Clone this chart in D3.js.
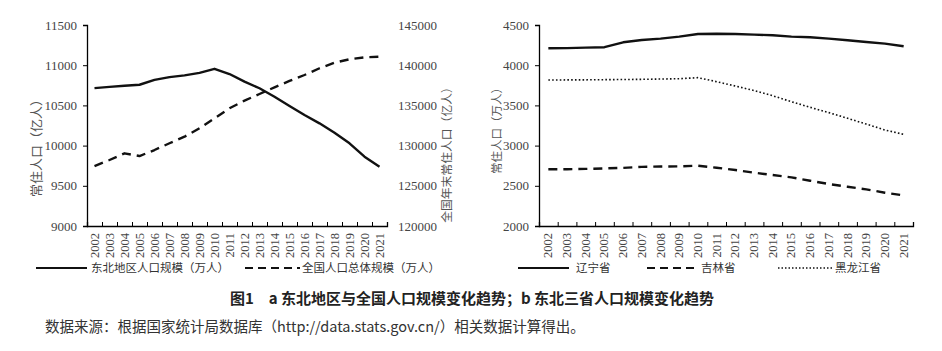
<!DOCTYPE html>
<html>
<head>
<meta charset="utf-8">
<script src="https://cdn.jsdelivr.net/npm/d3@7"></script>
<style>
body { margin: 0; background: #fff; }
.cjk { font-family: "Noto Sans CJK SC", sans-serif; }
</style>
</head>
<body>
<svg width="942" height="351"></svg>
<script>
const years = d3.range(2002, 2022);

// panel a
const northeast = [10715, 10730, 10745, 10757, 10817, 10852, 10874, 10905, 10955, 10890,
                   10795, 10713, 10608, 10493, 10380, 10277, 10160, 10028, 9862, 9738];
const national = [127460, 128210, 129040, 128700, 129450, 130290, 131110, 132150, 133400, 134640,
                  135590, 136420, 137250, 138040, 138780, 139620, 140310, 140740, 140980, 141060];
const leftTicks = [9000, 9500, 10000, 10500, 11000, 11500];
const rightTicks = [120000, 125000, 130000, 135000, 140000, 145000];

// panel b
const liaoning = [4210, 4212, 4218, 4224, 4285, 4313, 4330, 4355, 4388, 4391,
                  4388, 4380, 4372, 4355, 4347, 4330, 4310, 4288, 4268, 4235];
const jilin = [2705, 2706, 2710, 2716, 2723, 2736, 2740, 2742, 2750, 2725,
               2696, 2663, 2634, 2605, 2563, 2522, 2488, 2456, 2414, 2380];
const heilongjiang = [3816, 3817, 3818, 3820, 3822, 3824, 3828, 3832, 3845, 3795,
                      3741, 3685, 3620, 3546, 3476, 3410, 3340, 3268, 3194, 3140];
const bTicks = [2000, 2500, 3000, 3500, 4000, 4500];

const svg = d3.select('svg');
const plotTop = 25, plotBottom = 226;
const serif = '"Liberation Serif"';

function xAxisFor(x0, x1) {
    const x = d3.scaleLinear().domain([2001.5, 2021.5]).range([x0, x1]);
    const g = svg.append('g').attr('transform', `translate(0,${plotBottom})`);
    g.call(d3.axisBottom(x).tickValues(d3.range(2001.5, 2022.5, 1)).tickSize(-4).tickFormat(''))
        .call(s => s.select('.domain').attr('stroke', '#000').attr('stroke-width', 1.3))
        .call(s => s.selectAll('.tick line').attr('stroke', '#000'));
    svg.append('g').selectAll('text').data(years).enter().append('text')
        .attr('transform', d => `translate(${x(d) + 4},233) rotate(-90)`)
        .attr('text-anchor', 'end')
        .style('font-family', serif)
        .style('font-size', '12.5px')
        .attr('fill', '#444')
        .text(d => d);
    return x;
}

function yAxisLeft(y, ticks, xPos) {
    svg.append('g').attr('transform', `translate(${xPos},0)`)
        .call(d3.axisLeft(y).tickValues(ticks).tickFormat(d3.format('d')).tickSize(4).tickPadding(6))
        .call(s => s.select('.domain').attr('stroke', '#000').attr('stroke-width', 1.3))
        .call(s => s.selectAll('.tick line').attr('stroke', '#000'))
        .call(s => s.selectAll('.tick text').attr('fill', '#444')
              .style('font-size', '13px').style('font-family', serif));
}

function drawLine(x, y, vals, width, dash) {
    svg.append('path')
        .datum(vals)
        .attr('fill', 'none')
        .attr('stroke', '#111')
        .attr('stroke-width', width)
        .attr('stroke-dasharray', dash)
        .attr('stroke-linejoin', 'round')
        .attr('d', d3.line().x((d, i) => x(years[i])).y(d => y(d)));
}

// ---------- panel a ----------
const xa = xAxisFor(87, 387);
const ya = d3.scaleLinear().domain([9000, 11500]).range([plotBottom, plotTop]);
yAxisLeft(ya, leftTicks, 87);
const ya2 = d3.scaleLinear().domain([120000, 145000]).range([plotBottom, plotTop]);
svg.append('g').attr('transform', 'translate(392,0)')
    .call(d3.axisRight(ya2).tickValues(rightTicks).tickFormat(d3.format('d')).tickSize(0).tickPadding(6))
    .call(s => s.select('.domain').remove())
    .call(s => s.selectAll('.tick text').attr('fill', '#444')
          .style('font-size', '13px').style('font-family', serif));

drawLine(xa, ya, northeast, 2.4, null);
drawLine(xa, ya2, national, 2.4, '9,6');

svg.append('text').attr('class', 'cjk')
    .attr('transform', 'translate(41,145) rotate(-90)')
    .attr('text-anchor', 'middle').attr('font-size', 13).attr('fill', '#555')
    .text('常住人口（亿人）');
svg.append('text').attr('class', 'cjk')
    .attr('transform', 'translate(451,152) rotate(-90)')
    .attr('text-anchor', 'middle').attr('font-size', 11.8).attr('fill', '#555')
    .text('全国年末常住人口（亿人）');

// ---------- panel b ----------
const xb = xAxisFor(539, 913);
const yb = d3.scaleLinear().domain([2000, 4500]).range([plotBottom, plotTop]);
yAxisLeft(yb, bTicks, 539);

drawLine(xb, yb, liaoning, 2.4, null);
drawLine(xb, yb, jilin, 2.4, '9,6');
drawLine(xb, yb, heilongjiang, 1.6, '1.6,2.2');

svg.append('text').attr('class', 'cjk')
    .attr('transform', 'translate(501,128) rotate(-90)')
    .attr('text-anchor', 'middle').attr('font-size', 11.5).attr('fill', '#555')
    .text('常住人口（万人）');

// ---------- legends ----------
const legend = [
    {x: 36, w: 51, tx: 91, dash: null, sw: 2, label: '东北地区人口规模（万人）'},
    {x: 245, w: 55, tx: 302, dash: '8,5', sw: 2, label: '全国人口总体规模（万人）'},
    {x: 518, w: 51, tx: 576, dash: null, sw: 2, label: '辽宁省'},
    {x: 647, w: 51, tx: 701, dash: '8,5', sw: 2, label: '吉林省'},
    {x: 778, w: 54, tx: 835, dash: '1.5,2', sw: 1.5, label: '黑龙江省'}
];
const lg = svg.append('g').selectAll('g').data(legend).enter().append('g');
lg.append('line')
    .attr('x1', d => d.x).attr('x2', d => d.x + d.w)
    .attr('y1', 268).attr('y2', 268)
    .attr('stroke', '#111').attr('stroke-width', d => d.sw)
    .attr('stroke-dasharray', d => d.dash);
lg.append('text').attr('class', 'cjk')
    .attr('x', d => d.tx).attr('y', 272)
    .attr('font-size', 11.5).attr('fill', '#333')
    .text(d => d.label);

// ---------- caption ----------
svg.append('text').attr('class', 'cjk')
    .attr('x', 472).attr('y', 304)
    .attr('text-anchor', 'middle').attr('font-size', 15).attr('font-weight', 'bold').attr('fill', '#222')
    .text('图1　a 东北地区与全国人口规模变化趋势；b 东北三省人口规模变化趋势');
svg.append('text').attr('class', 'cjk')
    .attr('x', 45).attr('y', 332)
    .attr('font-size', 14.5).attr('fill', '#333')
    .text('数据来源：根据国家统计局数据库（http://data.stats.gov.cn/）相关数据计算得出。');
</script>
</body>
</html>
